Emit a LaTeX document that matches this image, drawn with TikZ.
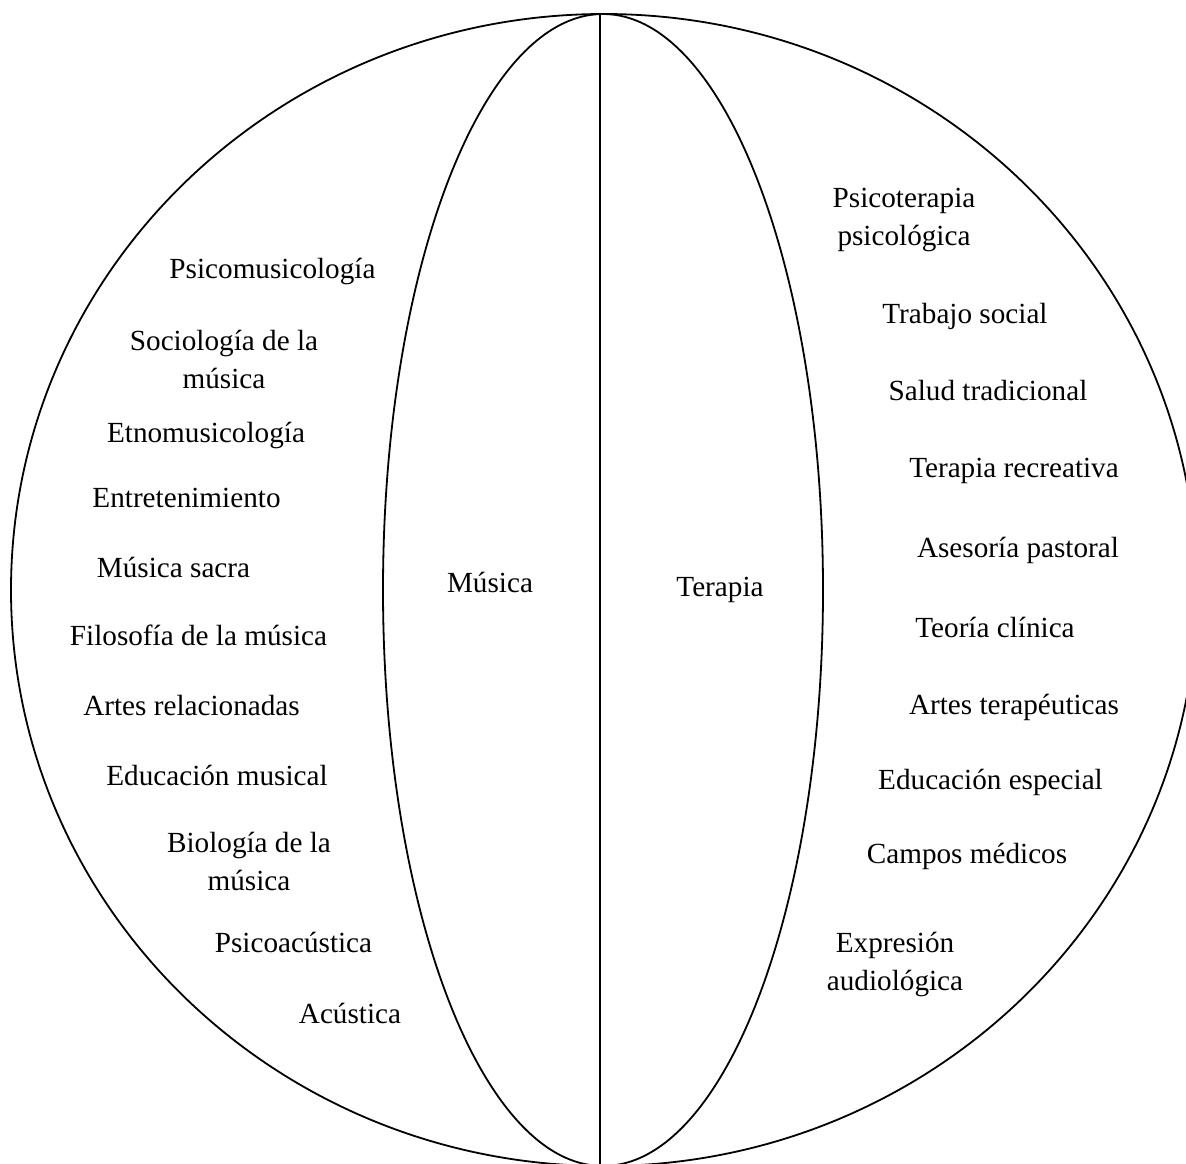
\documentclass[tikz,border=0pt]{standalone}
\usepackage{fontspec}
\setmainfont{Liberation Serif}
\newcommand{\twoline}[2]{\begin{tabular}[t]{@{}c@{}}#1\\#2\end{tabular}}
\begin{document}
\begin{tikzpicture}[x=1pt,y=-1pt,
  shape line/.style={draw=black,line width=1.8pt},
  lbl/.style={anchor=base,inner sep=0pt,font=\fontsize{29.2}{38}\selectfont}]
\useasboundingbox (0,0) rectangle (1186,1163);
\clip (0,0) rectangle (1186,1163);
% shapes
\draw[shape line] (604,590) ellipse [x radius=593pt, y radius=576pt];
\draw[shape line] (603,590) ellipse [x radius=220pt, y radius=576pt];
\coordinate (top) at (600,14);
\coordinate (bot) at (600,1166);
\draw[shape line] (top) -- (bot);
% left side
\node[lbl] (psicomus) at (272.5,278) {Psicomusicología};
\node[lbl] (sociol) at (224,350) {\twoline{Sociología de la}{música}};
\node[lbl] (etno) at (206,442) {Etnomusicología};
\node[lbl] (entre) at (186.5,507) {Entretenimiento};
\node[lbl] (sacra) at (173.5,577) {Música sacra};
\node[lbl] (filos) at (198.5,645) {Filosofía de la música};
\node[lbl] (artesrel) at (191.5,715) {Artes relacionadas};
\node[lbl] (edmus) at (217,785) {Educación musical};
\node[lbl] (biol) at (249,852) {\twoline{Biología de la}{música}};
\node[lbl] (psicoac) at (293.5,952) {Psicoacústica};
\node[lbl] (acust) at (350,1023) {Acústica};
% centre
\node[lbl] (musica) at (490,592) {Música};
\node[lbl] (terapia) at (720,596) {Terapia};
% right side
\node[lbl] (psicoter) at (904,207) {\twoline{Psicoterapia}{psicológica}};
\node[lbl] (trabajo) at (965,323) {Trabajo social};
\node[lbl] (salud) at (988,400) {Salud tradicional};
\node[lbl] (recre) at (1014,477) {Terapia recreativa};
\node[lbl] (pastoral) at (1018,557) {Asesoría pastoral};
\node[lbl] (teoria) at (995,637) {Teoría clínica};
\node[lbl] (artester) at (1014,714) {Artes terapéuticas};
\node[lbl] (edesp) at (990.5,789) {Educación especial};
\node[lbl] (campos) at (967,863) {Campos médicos};
\node[lbl] (expres) at (895,952) {\twoline{Expresión}{audiológica}};
\end{tikzpicture}
\end{document}
